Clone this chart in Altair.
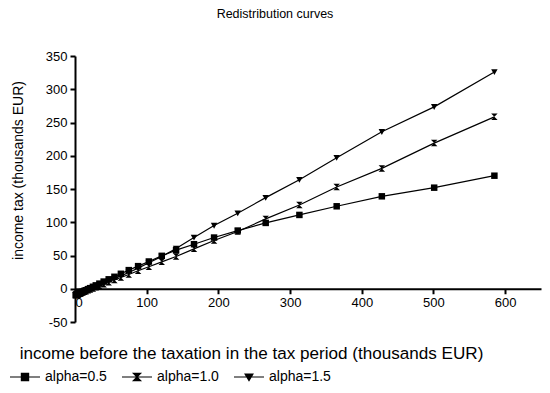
import altair as alt
import pandas as pd

income = [1, 1.5, 2, 2.5, 3, 3.5, 4, 5, 6, 7, 8, 9.5, 11, 13, 15, 18, 21, 25, 29, 34,
          40, 47, 55, 64, 75, 88, 103, 121, 141, 166, 194, 227, 266, 313, 365, 428, 501, 585]

tax_a05 = [-9.5, -9.2, -9.0, -8.7, -8.4, -8.2, -7.9, -7.4, -6.9, -6.4, -5.8, -5.0, -4.3, -3.2,
           -2.2, -0.6, 0.9, 3.0, 5.1, 7.7, 10.8, 14.2, 18.0, 22.5, 28.0, 34.0, 41.0, 49.5,
           58.0, 67.0, 77.0, 87.5, 99.0, 111.0, 124.0, 139.0, 152.0, 170.0]
tax_a10 = [-9.6, -9.4, -9.2, -9.0, -8.7, -8.5, -8.3, -7.9, -7.5, -7.1, -6.6, -6.0, -5.4, -4.5,
           -3.7, -2.4, -1.2, 0.5, 2.2, 4.3, 6.8, 9.7, 13.1, 16.9, 21.5, 27.0, 33.0, 40.5,
           48.5, 60.0, 72.5, 86.0, 105.0, 126.0, 153.0, 181.0, 219.0, 258.5]
tax_a15 = [-9.5, -9.3, -9.1, -8.9, -8.7, -8.4, -8.2, -7.8, -7.3, -6.9, -6.4, -5.7, -5.0, -4.2,
           -3.3, -1.9, -0.6, 1.3, 3.0, 5.3, 8.0, 11.3, 15.0, 19.3, 24.5, 31.0, 39.0, 48.5,
           60.5, 77.0, 95.0, 113.5, 137.0, 164.0, 197.0, 236.0, 273.5, 326.0]

series = ["alpha=0.5", "alpha=1.0", "alpha=1.5"]

rows = []
for name, vals in zip(series, [tax_a05, tax_a10, tax_a15]):
    for xv, yv in zip(income, vals):
        rows.append({"income": xv, "tax": yv, "series": name})
df = pd.DataFrame(rows)
legend_df = pd.DataFrame({"series": series})

FONT = "Liberation Sans"

marker_paths = [
    "M-1,-1H1V1H-1Z",
    "M-1,-1H1L-1,1H1Z",
    "M-1,-0.85H1L0,0.95Z",
]
legend_paths = [
    "M-1,0H1M-0.24,-0.24H0.24V0.24H-0.24Z",
    "M-1,0H1M-0.24,-0.24H0.24L-0.24,0.24H0.24Z",
    "M-1,0H1M-0.26,-0.2H0.26L0,0.24Z",
]

W, H = 466, 266

xenc = alt.X(
    "income:Q",
    scale=alt.Scale(domain=[0, 650], nice=False, zero=False),
    axis=alt.Axis(
        values=[0, 100, 200, 300, 400, 500, 600],
        offset=-H * 50 / 400,
        title="income before the taxation in the tax period (thousands EUR)",
        titleX=176, titleY=56, titleAnchor="middle", titleAlign="center",
        titleFontSize=17.1, labelOverlap=False,
        grid=False,
    ),
)
yenc = alt.Y(
    "tax:Q",
    scale=alt.Scale(domain=[-50, 350], nice=False, zero=False),
    axis=alt.Axis(
        values=[-50, 0, 50, 100, 150, 200, 250, 300, 350],
        labelExpr="datum.value < 0 ? '-' + abs(datum.value) : '' + datum.value",
        title="income tax (thousands EUR)",
        titleX=-57, titleY=114, titleAlign="center", titleAngle=-90,
        titleBaseline="middle", labelOverlap=False,
        grid=False,
    ),
)

lines = alt.Chart(df).mark_line(color="black", strokeWidth=1.2).encode(
    x=xenc, y=yenc, detail="series:N"
)

points = alt.Chart(df).mark_point(
    filled=True, color="black", opacity=1, size=42
).encode(
    x=xenc, y=yenc,
    shape=alt.Shape("series:N", scale=alt.Scale(domain=series, range=marker_paths), legend=None),
)

def leg():
    return alt.Legend(
        title=None, orient="none", direction="horizontal",
        legendX=-66, legendY=305, columnPadding=12, labelOffset=4,
        symbolSize=900, symbolStrokeWidth=1.2, symbolOpacity=1,
        labelFontSize=14, labelFont=FONT, labelColor="black", padding=0,
    )

legend_layer = alt.Chart(legend_df).transform_filter("false").mark_point(
    strokeWidth=1.2, opacity=1, size=900
).encode(
    x=alt.value(0), y=alt.value(0),
    shape=alt.Shape("series:N", scale=alt.Scale(domain=series, range=legend_paths), legend=leg()),
    stroke=alt.Stroke("series:N", scale=alt.Scale(domain=series, range=["black", "black", "black"]), legend=leg()),
    fill=alt.Fill("series:N", scale=alt.Scale(domain=series, range=["black", "black", "black"]), legend=leg()),
)

chart = alt.layer(lines, points, legend_layer).resolve_scale(
    shape="independent", stroke="independent", fill="independent"
).properties(
    width=W, height=H,
    autosize=alt.AutoSizeParams(type="none"),
    padding={"left": 67, "top": 48, "right": 1, "bottom": 62},
    title=alt.TitleParams(
        "Redistribution curves", fontSize=12.5, fontWeight="normal", font=FONT,
        color="black", anchor="middle", dx=-33, offset=30,
    ),
).configure_view(stroke=None).configure_axis(
    domainColor="black", domainWidth=2, tickColor="black", tickWidth=2, tickSize=5,
    labelFont=FONT, labelFontSize=13, labelColor="black", labelPadding=3,
    titleFont=FONT, titleFontSize=14, titleFontWeight="normal", titleColor="black",
)

chart.save("out.html", embed_options={"renderer": "svg", "actions": False})
